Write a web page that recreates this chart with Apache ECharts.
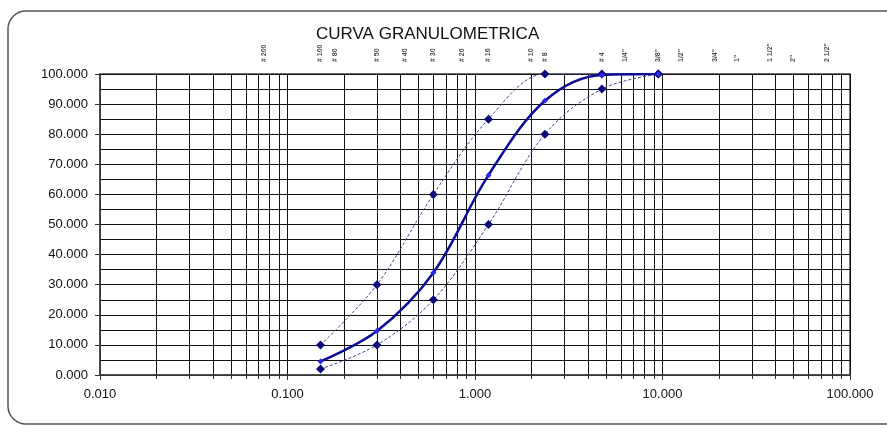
<!DOCTYPE html>
<html>
  <head>
    <meta charset="utf-8" />
    <title>Curva granulometrica</title>
    <script src="https://cdn.jsdelivr.net/npm/echarts@6.0.0/dist/echarts.min.js"></script>
    <style>
      html, body { margin: 0; padding: 0; background: #fff; }
    </style>
  </head>
  <body>
    <div id="main" style="width: 887px; height: 425px"></div>

    <script type="text/javascript">
      // abertura de tamices (mm)
      const sizes = [0.15, 0.3, 0.6, 1.18, 2.36, 4.75, 9.5]
      // porcentaje que pasa
      const passing = [4.5, 14.6, 34, 66.4, 91.1, 99.7, 100]
      const upperLimit = [10, 30, 60, 85, 100, 100, 100]
      const lowerLimit = [2, 10, 25, 50, 80, 95, 100]

      // etiquetas de tamices arriba del grafico
      const sieveSizes = [0.075, 0.15, 0.18, 0.3, 0.425, 0.6, 0.85, 1.18, 2.0, 2.36, 4.75, 6.3, 9.5, 12.5, 19, 25, 37.5, 50, 75]
      const sieveNames = ['# 200', '# 100', '# 80', '# 50', '# 40', '# 30', '# 20', '# 16', '# 10', '# 8', '# 4', '1/4"', '3/8"', '1/2"', '3/4"', '1"', '1 1/2"', '2"', '2 1/2"']

      const font = 'Liberation Sans, Arial, sans-serif'

      var myChart = echarts.init(document.getElementById('main'))

      const pair = (ys) => sizes.map((s, i) => [s, ys[i]])

      option = {
        animation: false,
        title: {
          text: 'CURVA GRANULOMETRICA',
          left: 311,
          top: 21,
          textStyle: { fontFamily: font, fontSize: 17, fontWeight: 'normal', color: '#111' },
        },
        graphic: [
          {
            type: 'rect',
            shape: { x: 8, y: 11, width: 920, height: 413, r: 18 },
            style: { fill: 'none', stroke: '#555', lineWidth: 1.5 },
            silent: true,
          },
        ],
        grid: {
          left: 100,
          right: 37,
          top: 74,
          bottom: 50,
          show: true,
          borderColor: '#444',
          borderWidth: 1.5,
        },
        xAxis: {
          type: 'log',
          logBase: 10,
          min: 0.01,
          max: 100,
          axisLine: { lineStyle: { color: '#444', width: 1.5 } },
          axisTick: { show: true, inside: false, length: 5, lineStyle: { color: '#333' } },
          minorTick: { show: true, splitNumber: 9, length: 4, lineStyle: { color: '#333' } },
          axisLabel: {
            margin: 13,
            fontFamily: font,
            fontSize: 13,
            color: '#111',
            formatter: (v) => v.toFixed(3),
          },
          splitLine: { show: true, lineStyle: { color: '#111', width: 1 } },
          minorSplitLine: { show: true, lineStyle: { color: '#111', width: 1 } },
        },
        yAxis: {
          type: 'value',
          min: 0,
          max: 100,
          interval: 10,
          axisLine: { show: true, lineStyle: { color: '#444', width: 1.5 } },
          axisTick: { show: true, length: 5, lineStyle: { color: '#333' } },
          axisLabel: {
            margin: 12,
            fontFamily: font,
            fontSize: 13,
            color: '#111',
            formatter: (v) => v.toFixed(3),
          },
          splitLine: { show: true, lineStyle: { color: '#111', width: 1 } },
          minorSplitLine: { show: true, lineStyle: { color: '#111', width: 1 } },
          minorTick: { show: false, splitNumber: 2 },
        },
        series: [
          {
            name: 'Limite superior',
            type: 'line',
            data: pair(upperLimit),
            smooth: 0.35,
            symbol: 'diamond',
            symbolSize: 9,
            itemStyle: { color: '#0a0a7a' },
            lineStyle: { color: '#44448a', width: 1, type: [3, 2] },
            z: 3,
          },
          {
            name: 'Limite inferior',
            type: 'line',
            data: pair(lowerLimit),
            smooth: 0.35,
            symbol: 'diamond',
            symbolSize: 9,
            itemStyle: { color: '#0a0a7a' },
            lineStyle: { color: '#44448a', width: 1, type: [3, 2] },
            z: 3,
          },
          {
            name: 'Muestra',
            type: 'line',
            data: pair(passing),
            smooth: 0.35,
            symbol: 'diamond',
            symbolSize: 6,
            itemStyle: { color: '#2a2ae6' },
            lineStyle: { color: '#0c0c96', width: 2.5 },
            z: 4,
          },
          {
            name: 'Tamices',
            type: 'scatter',
            data: sieveSizes.map((s) => [s, 100]),
            symbolSize: 0,
            silent: true,
            label: {
              show: true,
              position: 'top',
              distance: 12,
              rotate: 90,
              align: 'left',
              verticalAlign: 'middle',
              fontFamily: font,
              fontSize: 7,
              fontWeight: 'bold',
              color: '#222',
              formatter: (p) => sieveNames[p.dataIndex],
            },
            z: 5,
          },
        ],
      }

      myChart.setOption(option)
    </script>
  </body>
</html>
